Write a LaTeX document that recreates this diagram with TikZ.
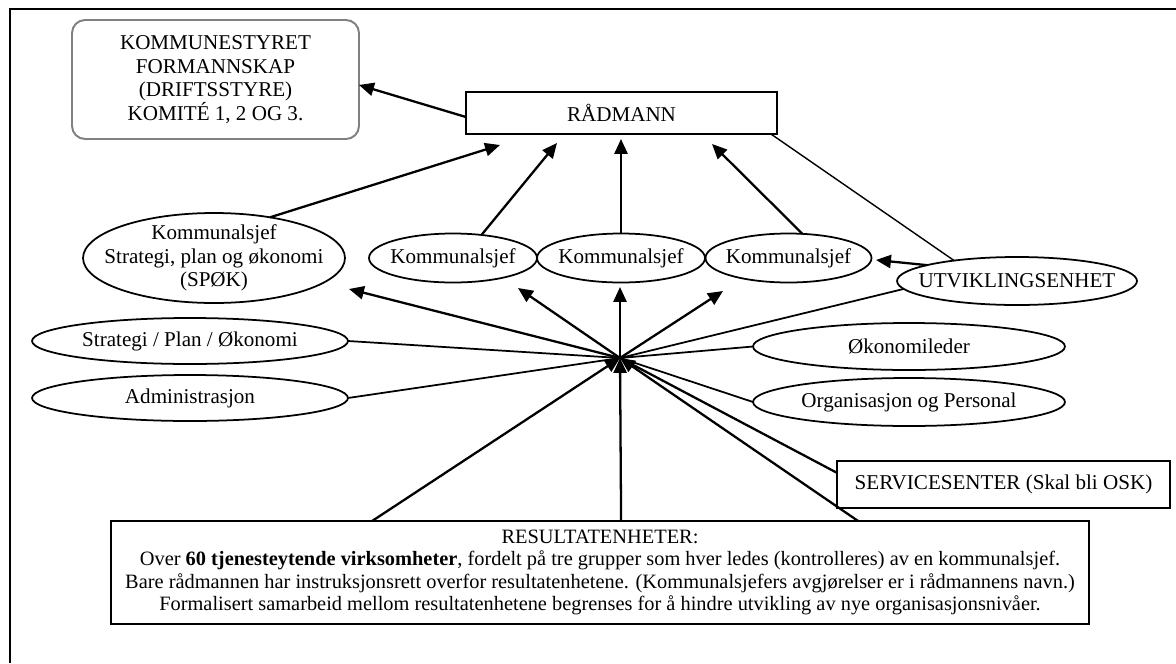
\documentclass[tikz,border=0pt]{standalone}
\usepackage{fontspec}
\setmainfont{Liberation Serif}
\usetikzlibrary{arrows.meta,calc,shapes.geometric}
\begin{document}
\begin{tikzpicture}[x=0.02cm,y=-0.02cm,
  every node/.style={font=\fontsize{12}{13.3}\selectfont, align=center, inner sep=0pt, outer sep=0pt},
  oval/.style={ellipse, draw, line width=1pt},
  box/.style={rectangle, draw, line width=1.1pt},
  thickarrow/.style={line width=1.3pt, -{Triangle[length=8.5pt,width=7.5pt]}},
  thickline/.style={line width=1.3pt},
  midline/.style={line width=1pt},
  thinline/.style={line width=0.8pt},
]
\useasboundingbox (0,0) rectangle (1176,663);
% frame
\draw[line width=1.2pt] (10,663) -- (10,9) -- (1176,9);

% council and chief executive
\node[draw=black!50, rounded corners=0.26cm, line width=1.1pt,
      minimum width=5.74cm, minimum height=2.38cm,
      font=\fontsize{12}{13.4}\selectfont] (kom) at (215.5,79.5)
      {KOMMUNESTYRET\\FORMANNSKAP\\(DRIFTSSTYRE)\\KOMITÉ 1, 2 OG 3.};
\node[box, minimum width=6.22cm, minimum height=0.84cm] (rad) at (621.5,113) {RÅDMANN};

% municipal directors
\node[oval, minimum width=5.24cm, minimum height=1.8cm,
      label={center:Kommunalsjef\\Strategi, plan og økonomi\\(SPØK)}] (spok) at (214,258) {};
\node[oval, minimum width=3.36cm, minimum height=0.98cm, label={center:Kommunalsjef}] (k1) at (453,258) {};
\node[oval, minimum width=3.36cm, minimum height=0.98cm, label={center:Kommunalsjef}] (k2) at (621,258) {};
\node[oval, minimum width=3.32cm, minimum height=0.98cm, label={center:Kommunalsjef}] (k3) at (788.5,258) {};
\node[oval, minimum width=4.8cm, minimum height=0.96cm, label={center:UTVIKLINGSENHET}] (utv) at (1017,281) {};

% staff units
\node[oval, minimum width=6.32cm, minimum height=0.92cm, label={center:Strategi / Plan / Økonomi}] (strat) at (190,341) {};
\node[oval, minimum width=6.32cm, minimum height=0.92cm, label={center:Administrasjon}] (adm) at (190,398) {};
\node[oval, minimum width=6.24cm, minimum height=0.94cm, label={center:Økonomileder}] (okon) at (909,346.5) {};
\node[oval, minimum width=6.24cm, minimum height=0.96cm, label={center:Organisasjon og Personal}] (org) at (909,402) {};
\node[box, minimum width=6.66cm, minimum height=0.94cm] (serv) at (1003.5,484.5) {SERVICESENTER (Skal bli OSK)};

% service units
\node[box, minimum width=19.56cm, minimum height=2.06cm,
      font=\fontsize{11.6}{12.8}\selectfont] (res) at (600,572.5)
  {RESULTATENHETER:\\
   Over \textbf{60 tjenesteytende virksomheter}, fordelt på tre grupper som hver ledes (kontrolleres) av en kommunalsjef.\\
   Bare rådmannen har instruksjonsrett overfor resultatenhetene. (Kommunalsjefers avgjørelser er i rådmannens navn.)\\
   Formalisert samarbeid mellom resultatenhetene begrenses for å hindre utvikling av nye organisasjonsnivåer.};

% junction and arrow tips
\coordinate (hub) at (620,358);
\coordinate (rspok) at (500,145);
\coordinate (rk1) at (557,143);
\coordinate (rk2) at (621,139);
\coordinate (rk3) at (712,144);
\coordinate (hspok) at (349,289);
\coordinate (hk1) at (518,288);
\coordinate (hk2) at (620,287);
\coordinate (hk3) at (723,291);
\coordinate (uk3) at (876,260);

% reporting lines to the chief executive
\draw[thickarrow] ([yshift=-2.3pt]rad.west) -- ([yshift=-3.1pt]kom.east);
\draw[thickarrow] (spok.36) -- (rspok);
\draw[thickarrow] (k1.39) -- (rk1);
\draw[thickarrow] (k2) -- (rk2);
\draw[thickarrow] (k3.60) -- (rk3);
\draw[thinline] (rad.-8.8) -- (utv.162.6);
\draw[thickarrow] (utv.170.7) -- (uk3);

% lines from the junction
\draw[thickarrow] (hub) -- (hspok);
\draw[thickarrow] (hub) -- (hk1);
\draw[thickarrow] (hub) -- (hk2);
\draw[thickarrow] (hub) -- (hk3);
\draw[midline] (hub) -- (strat.east);
\draw[midline] (hub) -- (adm.east);
\draw[midline] (hub) -- (okon.west);
\draw[midline] (hub) -- (org.west);
\draw[midline] (hub) -- (utv.184.5);
\draw[thickline] (hub) -- (serv.176);
\draw[thickarrow] ($(res.north west)+(261,0)$) -- (hub);
\draw[thickarrow] ($(res.north west)+(510,0)$) -- (hub);
\draw[thickarrow] ($(res.north west)+(747,0)$) -- (hub);
\end{tikzpicture}
\end{document}
